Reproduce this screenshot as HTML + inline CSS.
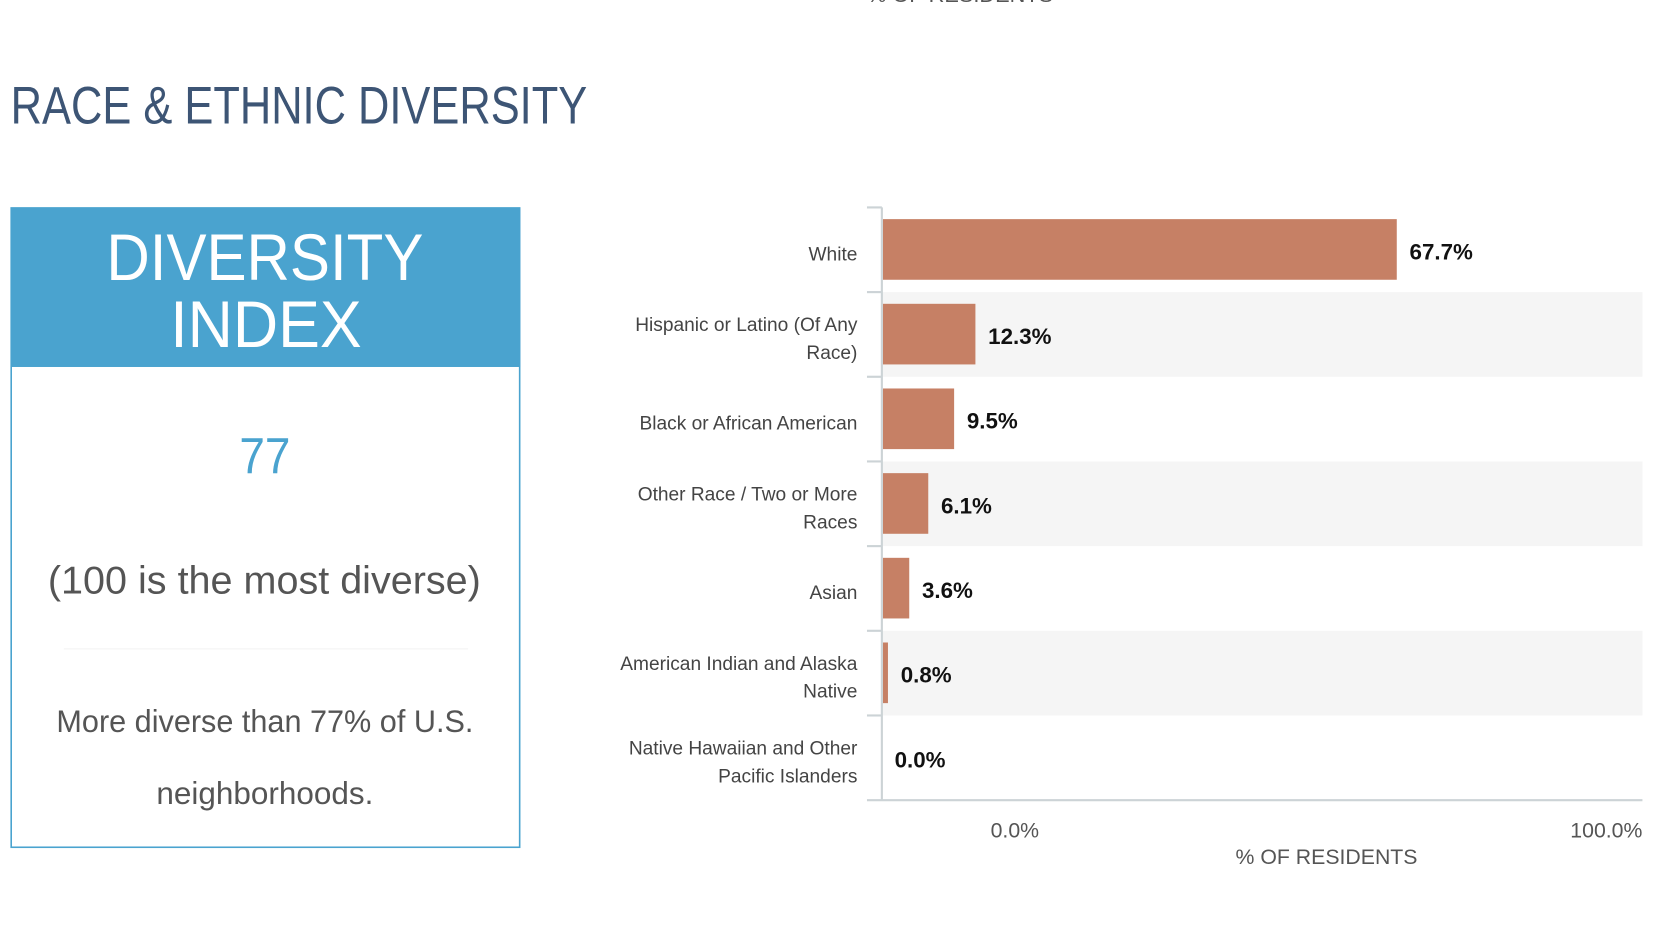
<!DOCTYPE html>
<html><head><meta charset="utf-8"><style>
html,body{margin:0;padding:0;background:#fff;width:1668px;height:948px;overflow:hidden}
svg{display:block;font-family:"Liberation Sans",sans-serif}
</style></head><body>
<svg id="chart" width="1668" height="948" viewBox="0 0 1568 891.2">
<text x="815" y="2" font-size="20" fill="#555" textLength="175" lengthAdjust="spacingAndGlyphs">% OF RESIDENTS</text>
<text x="10" y="116" font-size="50" fill="#3d5575" textLength="542" lengthAdjust="spacingAndGlyphs">RACE &amp; ETHNIC DIVERSITY</text>
<g>
<rect x="10.5" y="195.5" width="478" height="601" fill="#fff" stroke="#4aa3cf" stroke-width="1.5"/>
<rect x="10" y="195" width="479" height="150" fill="#4aa3cf"/>
<text x="100" y="263" font-size="62" fill="#fff" textLength="298" lengthAdjust="spacingAndGlyphs">DIVERSITY</text>
<text x="160" y="326" font-size="62" fill="#fff" textLength="180" lengthAdjust="spacingAndGlyphs">INDEX</text>
<text x="225" y="445" font-size="48" fill="#4aa3cf" textLength="48" lengthAdjust="spacingAndGlyphs">77</text>
<text x="45" y="558" font-size="37" fill="#555" textLength="407" lengthAdjust="spacingAndGlyphs">(100 is the most diverse)</text>
<line x1="60" y1="610" x2="440" y2="610" stroke="#f2f2f2" stroke-width="1"/>
<text x="53" y="688" font-size="30" fill="#555" textLength="392" lengthAdjust="spacingAndGlyphs">More diverse than 77% of U.S.</text>
<text x="147" y="756" font-size="30" fill="#555" textLength="204" lengthAdjust="spacingAndGlyphs">neighborhoods.</text>
</g>
<g id="plot"></g>
</svg>
<script>
const categories = [["White"],["Hispanic or Latino (Of Any","Race)"],["Black or African American"],["Other Race / Two or More","Races"],["Asian"],["American Indian and Alaska","Native"],["Native Hawaiian and Other","Pacific Islanders"]];
const values = [67.7, 12.3, 9.5, 6.1, 3.6, 0.8, 0.0];
const tickLabels = ["0.0%", "100.0%"];
const axisTitle = "% OF RESIDENTS";

const NS = "http://www.w3.org/2000/svg";
const g = document.getElementById("plot");
const x0 = 829, x1 = 1544, top0 = 195, rowH = 79.6;
const xScale = v => x0 + v / 100 * (x1 - x0);
const rowTop = i => top0 + i * rowH;
function mk(tag, attrs, txt) {
  const e = document.createElementNS(NS, tag);
  for (const k in attrs) e.setAttribute(k, attrs[k]);
  if (txt !== undefined) e.textContent = txt;
  g.appendChild(e);
  return e;
}
categories.forEach((lab, i) => {
  const t = rowTop(i), c = t + rowH / 2;
  if (i % 2 === 1) {
    const bg = mk("rect", {x: x0, y: t, width: x1 - x0, height: rowH, fill: "#f5f5f5"});
    
    
  }
  const bar = mk("rect", {x: x0 + 1, y: t + 11, width: Math.max(0, xScale(values[i]) - x0 - 1), height: 57, fill: "#c68065"});
  
  
  const vl = mk("text", {x: xScale(values[i]) + 12, y: c + 9, "font-size": 21, "font-weight": "bold", fill: "#111"}, values[i].toFixed(1) + "%");
  
  
  lab.forEach((ln, j) => {
    const y = lab.length === 1 ? c + 10 : c - 3 + j * 26;
    const tl = mk("text", {x: 806, y: y, "font-size": 18, fill: "#444", "text-anchor": "end"}, ln);
    
    
  });
  const tk = mk("line", {x1: 815, y1: t, x2: x0, y2: t, stroke: "#ccd3d6", "stroke-width": 2});
  
  
});
const bottom = rowTop(categories.length);
const ya = mk("line", {x1: x0, y1: top0, x2: x0, y2: bottom, stroke: "#ccd3d6", "stroke-width": 2});


const xa = mk("line", {x1: 815, y1: bottom, x2: x1, y2: bottom, stroke: "#ccd3d6", "stroke-width": 2});


const t0 = mk("text", {x: 954, y: bottom + 35, "font-size": 20, fill: "#555", "text-anchor": "middle"}, tickLabels[0]);


const t1 = mk("text", {x: x1, y: bottom + 35, "font-size": 20, fill: "#555", "text-anchor": "end"}, tickLabels[1]);


const at = mk("text", {x: 1247, y: bottom + 60, "font-size": 20, fill: "#555", "text-anchor": "middle"}, axisTitle);


</script>
</body></html>
